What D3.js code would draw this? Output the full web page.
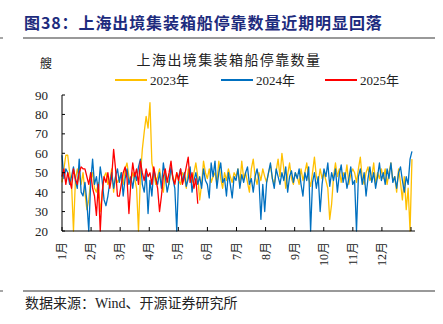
<!DOCTYPE html>
<html lang="zh">
<head>
<meta charset="UTF-8">
<title>上海出境集装箱船停靠数量</title>
<script src="https://cdnjs.cloudflare.com/ajax/libs/d3/7.8.5/d3.min.js"></script>
<style>
    body { margin: 0; background: #fff; }
    svg { display: block; font-family: "Liberation Serif", "Noto Sans CJK SC", serif; }
</style>
</head>
<body>
<svg id="chart" width="443" height="324"></svg>
<script>
// daily counts, sampled every other day from Jan 1
const stepDays = 2;
const data2023 = [
    45,52,59,59,50,44,20,46,52,48,44,50,40,31,36,46,
    50,42,40,45,30,38,48,50,44,46,52,40,48,45,
    47,50,44,52,55,48,45,50,47,42,20,48,62,71,79,73,
    86,55,50,44,48,52,45,40,50,47,44,52,48,45,50,
    46,44,50,48,42,52,47,45,50,55,48,36,44,56,50,
    47,52,45,48,50,44,56,47,42,50,46,52,48,45,50,
    48,52,44,56,47,50,45,40,52,57,48,44,50,46,52,48,
    45,50,54,47,44,51,57,48,60,52,42,49,55,47,44,50,
    48,44,52,46,50,55,47,43,50,58,48,45,52,47,50,
    46,42,26,34,48,55,48,52,45,50,47,54,44,49,52,
    50,45,52,58,47,44,50,53,46,48,55,44,50,47,52,
    47,52,44,50,55,46,48,40,52,45,36,48,31,42,20,57
];
const data2024 = [
    59,47,52,50,44,48,53,46,42,57,40,38,45,35,20,45,
    57,44,48,40,53,46,36,33,38,45,50,42,48,52,
    45,50,38,47,52,44,48,42,50,46,53,57,44,40,50,29,
    46,38,52,47,44,50,42,55,48,40,45,53,47,42,20,
    48,52,45,50,43,47,53,40,46,50,44,48,42,52,46,
    44,37,55,48,56,42,50,55,45,47,38,50,44,37,48,
    46,52,42,49,45,50,53,44,47,40,48,52,46,26,44,30,
    45,50,55,47,42,52,48,44,50,46,53,40,48,51,45,50,
    47,52,44,38,50,46,53,20,45,50,42,48,30,44,52,
    48,55,43,50,46,52,40,49,54,45,50,42,47,53,44,
    46,20,48,52,44,50,38,47,53,45,50,42,48,55,46,
    50,44,52,47,55,45,48,42,50,53,46,40,48,44,57,61
];
const data2025 = [
    48,52,44,50,46,42,52,47,44,50,53,52,52,48,44,50,
    42,38,28,44,20,40,48,45,50,42,48,62,52,38,
    38,44,50,53,47,29,45,55,48,52,44,56,50,46,52,48,
    50,44,53,47,42,30,38,48,52,45,50,56,47,44,50,
    46,52,44,48,53,58,45,50,42,47,34
];
const seriesNames = ["2023年", "2024年", "2025年"];
const seriesColors = ["#FFC000", "#0070C0", "#FF0000"];
const months = ["1月","2月","3月","4月","5月","6月","7月","8月","9月","10月","11月","12月"];
const yTicks = [20, 30, 40, 50, 60, 70, 80, 90];

const svg = d3.select("#chart");

// page furniture
svg.append("text").attr("x", 24).attr("y", 29)
    .attr("font-family", "Noto Sans CJK SC").attr("font-weight", "bold")
    .attr("font-size", 16).attr("letter-spacing", 0.9).attr("fill", "#1d2b7d")
    .text("图38：上海出境集装箱船停靠数量近期明显回落");
[38, 291].forEach(y => {
    svg.append("line").attr("x1", 23).attr("x2", 435).attr("y1", y).attr("y2", y)
        .attr("stroke", "#777").attr("stroke-width", 1.3);
    svg.append("line").attr("x1", 0).attr("x2", 3).attr("y1", y).attr("y2", y)
        .attr("stroke", "#777").attr("stroke-width", 1.3);
});
svg.append("text").attr("x", 25).attr("y", 308)
    .attr("font-size", 14).attr("fill", "#222")
    .text("数据来源：Wind、开源证券研究所");

// chart title, unit, legend
svg.append("text").attr("x", 229).attr("y", 65).attr("text-anchor", "middle")
    .attr("font-family", "Noto Sans CJK SC").attr("font-size", 14)
    .attr("letter-spacing", 1.4).attr("fill", "#222")
    .text("上海出境集装箱船停靠数量");
svg.append("text").attr("x", 46).attr("y", 68).attr("text-anchor", "middle")
    .attr("font-family", "Noto Sans CJK SC").attr("font-size", 12).attr("fill", "#222")
    .text("艘");

const legendX = [115, 221, 325];
seriesNames.forEach((name, i) => {
    const g = svg.append("g").attr("transform", `translate(${legendX[i]},80)`);
    g.append("line").attr("x1", 0).attr("x2", 32).attr("stroke", seriesColors[i]).attr("stroke-width", 2);
    g.append("text").attr("x", 35).attr("y", 5).attr("font-size", 13).attr("fill", "#222").text(name);
});

// scales
const x = d3.scaleLinear().domain([0, 365]).range([62, 411]);
const y = d3.scaleLinear().domain([20, 90]).range([231, 95]);

// lines
const line = d3.line()
    .x((d, i) => x(i * stepDays))
    .y(d => y(d));
[data2023, data2024, data2025].forEach((data, i) => {
    svg.append("path").datum(data)
        .attr("fill", "none")
        .attr("stroke", seriesColors[i])
        .attr("stroke-width", 1.3)
        .attr("stroke-linejoin", "round")
        .attr("d", line);
});

// y axis
svg.append("line").attr("x1", 62).attr("x2", 62).attr("y1", y(90)).attr("y2", y(20))
    .attr("stroke", "#000").attr("stroke-width", 1);
yTicks.forEach(t => {
    svg.append("line").attr("x1", 62).attr("x2", 65).attr("y1", y(t)).attr("y2", y(t))
        .attr("stroke", "#000");
    svg.append("text").attr("x", 48).attr("y", y(t) + 4.5).attr("text-anchor", "end")
        .attr("font-size", 13).attr("fill", "#222").text(t);
});

// x axis
svg.append("line").attr("x1", 62).attr("x2", 415).attr("y1", 231).attr("y2", 231)
    .attr("stroke", "#000").attr("stroke-width", 1.2);
d3.range(13).forEach(i => {
    const tx = x(i * 365 / 12);
    svg.append("line").attr("x1", tx).attr("x2", tx).attr("y1", 231).attr("y2", 227)
        .attr("stroke", "#000");
});
months.forEach((m, i) => {
    const tx = x(i * 365 / 12);
    svg.append("text")
        .attr("transform", `translate(${tx + 4},242) rotate(-90)`)
        .attr("text-anchor", "end")
        .attr("font-size", 12).attr("fill", "#222")
        .text(m);
});
</script>
</body>
</html>
